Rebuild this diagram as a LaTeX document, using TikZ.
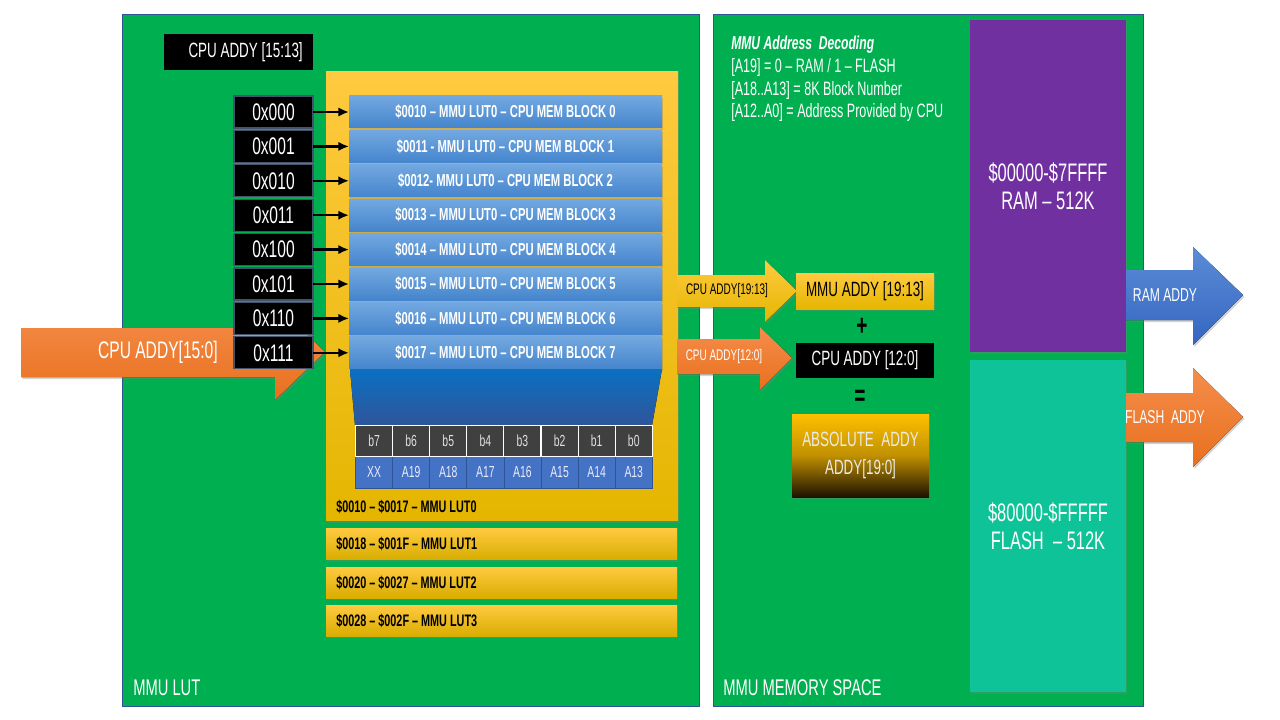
\documentclass[tikz,border=0pt]{standalone}
\usepackage{fontspec}
\setmainfont{Liberation Sans}[FakeStretch=0.65]
\usetikzlibrary{shadows,arrows.meta}
\newdimen\px \px=0.75pt
\newcommand\fsz[1]{\fontsize{#1pt}{#1pt}\selectfont}
\definecolor{pgreen}{HTML}{00B050}
\definecolor{panelb}{HTML}{2F5597}
\definecolor{adrgray}{HTML}{44546A}
\definecolor{rowtop}{HTML}{72A8E0}
\definecolor{rowbot}{HTML}{4585CD}
\definecolor{bitgray}{HTML}{404040}
\definecolor{bitblue}{HTML}{4472C4}
\definecolor{bitline}{HTML}{2F5597}
\definecolor{ytop}{HTML}{FFCA40}
\definecolor{ybot}{HTML}{E4B600}
\definecolor{otop}{HTML}{F58D4B}
\definecolor{obot}{HTML}{E8701E}
\definecolor{purp}{HTML}{7030A0}
\definecolor{teal}{HTML}{0EC397}
\definecolor{btop}{HTML}{5B8CD6}
\definecolor{bbot}{HTML}{3466C2}
\definecolor{trtop}{HTML}{0A70C2}
\definecolor{trbot}{HTML}{2F559A}
\definecolor{abtop}{HTML}{FFC000}
\definecolor{abmid}{HTML}{C09000}
\definecolor{abbot}{HTML}{1C1200}
\tikzset{
  sz/.style 2 args={minimum width=#1*\px, minimum height=#2*\px},
  box/.style={inner sep=0, outer sep=0},
  shad/.style={drop shadow={opacity=0.35, shadow xshift=1pt, shadow yshift=-1.5pt}},
  panel/.style={box, draw=panelb, fill=pgreen, line width=0.7pt},
  lbl/.style={inner sep=0, text=white, font=\fsz{17}},
  adr/.style={box, fill=black, draw=adrgray, line width=0.9pt, text=white, font=\fsz{18}, sz={79}{32}},
  rowbox/.style={box, top color=rowtop, bottom color=rowbot, text=white, font=\bfseries\fsz{13}, sz={313}{32}, shad},
  conn/.style={-{Latex[length=8pt,width=7pt]}, line width=1.8pt, black},
  bitc/.style={box, fill=bitgray, draw=white, line width=0.8pt, text=white!88!black, font=\fsz{12}, sz={37.1}{31}},
  bitv/.style={box, fill=bitblue, draw=bitline, line width=0.6pt, text=white!92!blue, font=\fsz{12}, sz={37.1}{31.5}},
  lutbar/.style={box, top color=ytop, bottom color=ybot!95!black, shad, sz={351}{31}},
  luttext/.style={inner sep=0, anchor=west, font=\bfseries\fsz{12.5}},
  blk/.style={box, fill=black, text=white}
}
\begin{document}
\begin{tikzpicture}[x=0.75pt,y=-0.75pt]
\useasboundingbox (0,0) rectangle (1280,720);
\fill[white] (0,0) rectangle (1280,720);

% panels
\node[panel, sz={577}{692}] (lpan) at (410.5,360) {};
\node[panel, sz={430}{692}] (rpan) at (928,360) {};
\node[lbl, anchor=west] (lutlbl) at (133,688) {MMU LUT};
\node[lbl, anchor=west] (memlbl) at (723,688) {MMU MEMORY SPACE};

% header box
\node[blk, sz={149}{36}] (hdr) at (238.5,52.5) {};
\node[inner sep=0, anchor=east, text=white, font=\fsz{15.5}] (hdrt) at (303,52.5) {CPU ADDY [15:13]};

% big yellow LUT0 block
\node[box, top color=ytop, bottom color=ybot, sz={352}{449}, shad] (lut0) at (502,296) {};

% input orange arrow
\fill[top color=otop, bottom color=obot, shad] (21,328) -- (275,328) -- (275,304) -- (325,352) -- (275,400) -- (275,377) -- (21,377) -- cycle;
\node[inner sep=0, text=white, font=\fsz{18}, anchor=east] (cpuin) at (218,352) {CPU ADDY[15:0]};

% address boxes and LUT rows
\foreach \i/\a/\t in {
  0/0x000/{\$0010 – MMU LUT0 – CPU MEM BLOCK 0},
  1/0x001/{\$0011 - MMU LUT0 – CPU MEM BLOCK 1},
  2/0x010/{\$0012- MMU LUT0 – CPU MEM BLOCK 2},
  3/0x011/{\$0013 – MMU LUT0 – CPU MEM BLOCK 3},
  4/0x100/{\$0014 – MMU LUT0 – CPU MEM BLOCK 4},
  5/0x101/{\$0015 – MMU LUT0 – CPU MEM BLOCK 5},
  6/0x110/{\$0016 – MMU LUT0 – CPU MEM BLOCK 6},
  7/0x111/{\$0017 – MMU LUT0 – CPU MEM BLOCK 7}}
{
  \pgfmathsetmacro\yy{112+34.4*\i}
  \node[adr] (a\i) at (273.5,\yy) {\a};
  \node[rowbox] (r\i) at (505.5,\yy) {\t};
  \draw[conn] (a\i) -- (r\i);
}

% funnel
\fill[top color=trtop, bottom color=trbot] (350,369) -- (662,369) -- (652,425.5) -- (355,425.5) -- cycle;

% bit table
\foreach \i/\b/\v in {0/b7/XX,1/b6/A19,2/b5/A18,3/b4/A17,4/b3/A16,5/b2/A15,6/b1/A14,7/b0/A13}
{
  \pgfmathsetmacro\xx{355.5+37.1*(\i+0.5)}
  \node[bitv] (v\i) at (\xx,472.2) {\v};
  \node[bitc] (b\i) at (\xx,441) {\b};
}

\node[luttext] (l0t) at (336,507) {\$0010 – \$0017 – MMU LUT0};

% other LUT bars
\node[lutbar] (l1) at (501.5,544) {};
\node[luttext] (l1t) at (336,544) {\$0018 – \$001F – MMU LUT1};
\node[lutbar] (l2) at (501.5,582.5) {};
\node[luttext] (l2t) at (336,582.5) {\$0020 – \$0027 – MMU LUT2};
\node[lutbar] (l3) at (501.5,620.5) {};
\node[luttext] (l3t) at (336,620.5) {\$0028 – \$002F – MMU LUT3};

% middle arrows
\fill[top color=ytop, bottom color=ybot, shad] (677,275) -- (765,275) -- (765,260) -- (797,291) -- (765,322) -- (765,307) -- (677,307) -- cycle;
\node[inner sep=0, font=\fsz{11.5}] (ya) at (727,291) {CPU ADDY[19:13]};
\fill[top color=otop, bottom color=obot, shad] (677,339) -- (760,339) -- (760,327) -- (792,358) -- (760,390) -- (760,374) -- (677,374) -- cycle;
\node[inner sep=0, text=white, font=\fsz{11.5}] (oa) at (724,357) {CPU ADDY[12:0]};

% address arithmetic
\node[box, top color=ytop, bottom color=ybot, sz={138}{36}, font=\fsz{15.5}, shad] (mmuaddr) at (865,291) {MMU ADDY [19:13]};
\node[inner sep=0, font=\bfseries\fsz{22}] (plus) at (862,327) {+};
\node[blk, sz={138}{35}, font=\fsz{15.5}] (cpuaddr) at (865,360.5) {CPU ADDY [12:0]};
\node[inner sep=0, font=\bfseries\fsz{22}] (eq) at (860,398) {=};
\node[box, top color=abtop, bottom color=abbot, middle color=abmid, sz={137}{83}, text=white!92!black, font=\fsz{15.5}, align=center, shad] (abs) at (860.5,455.5) {ABSOLUTE\ \ ADDY\\[5pt]ADDY[19:0]};

% decoding legend
\node[inner sep=0, anchor=west, text=white, font=\bfseries\itshape\fsz{14}] (dech) at (731,45) {MMU Address\ \ Decoding};
\node[inner sep=0, anchor=west, text=white, font=\fsz{14.5}] (dec1) at (731,68) {[A19] = 0 – RAM / 1 – FLASH};
\node[inner sep=0, anchor=west, text=white, font=\fsz{14.5}] (dec2) at (731,91) {[A18..A13] = 8K Block Number};
\node[inner sep=0, anchor=west, text=white, font=\fsz{14.5}] (dec3) at (731,113) {[A12..A0] = Address Provided by CPU};

% memory blocks
\node[box, fill=purp, sz={156}{332}, text=white, font=\fsz{19}, align=center, shad] (ram) at (1048,186) {\$00000-\$7FFFF\\[2pt]RAM – 512K};
\node[box, fill=teal, sz={156}{332}, text=white, font=\fsz{19}, align=center, shad] (flash) at (1048,526) {\$80000-\$FFFFF\\[2pt]FLASH\ \ – 512K};

% output arrows
\fill[top color=btop, bottom color=bbot, shad] (1126,270) -- (1193,270) -- (1193,247) -- (1243,295) -- (1193,345) -- (1193,320) -- (1126,320) -- cycle;
\node[inner sep=0, text=white, font=\fsz{14}] (ramt) at (1165,295) {RAM ADDY};
\fill[top color=otop, bottom color=obot, shad] (1126,393) -- (1193,393) -- (1193,368) -- (1243,417) -- (1193,467) -- (1193,442) -- (1126,442) -- cycle;
\node[inner sep=0, text=white, font=\fsz{14}] (flasht) at (1165,417) {FLASH\ \ ADDY};
\end{tikzpicture}
\end{document}
